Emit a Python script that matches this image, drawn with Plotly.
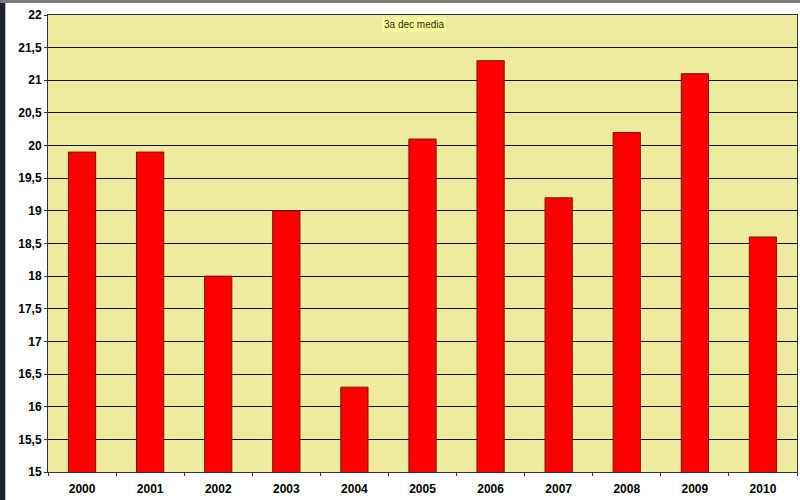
import plotly.graph_objects as go

years = ["2000", "2001", "2002", "2003", "2004", "2005", "2006", "2007", "2008", "2009", "2010"]
values = [19.9, 19.9, 18.0, 19.0, 16.3, 20.1, 21.3, 19.2, 20.2, 21.1, 18.6]
y_ticks = [15, 15.5, 16, 16.5, 17, 17.5, 18, 18.5, 19, 19.5, 20, 20.5, 21, 21.5, 22]
title_text = "3a dec media"

fig = go.Figure()
fig.add_trace(go.Bar(
    x=years, y=values,
    marker=dict(color="#ff0000", line=dict(color="#7a1010", width=1)),
    width=0.4,
))

fig.update_layout(
    width=800, height=500,
    margin=dict(l=48, r=3, t=15, b=28, autoexpand=False),
    paper_bgcolor="white",
    plot_bgcolor="#efeb9e",
    separators=",.",
    showlegend=False,
    bargap=0.6,
    font=dict(family="Liberation Sans, Arial, sans-serif", color="black"),
    annotations=[dict(
        text=title_text, x=0.489, y=0.995, xref="paper", yref="paper",
        xanchor="center", yanchor="top", showarrow=False,
        font=dict(size=10, color="#222"), bgcolor="#ffff99",
    )],
    shapes=[
        dict(type="rect", xref="paper", yref="paper", x0=-0.08, x1=-0.057, y0=-0.1, y1=1.1,
             fillcolor="#1a2030", line_width=0, layer="above"),
        dict(type="rect", xref="paper", yref="paper", x0=-0.08, x1=1.02, y0=1.026, y1=1.1,
             fillcolor="#7a7a7a", line_width=0, layer="above"),
    ],
)
fig.update_xaxes(
    type="category",
    automargin=False,
    showgrid=False,
    showline=True, linecolor="#333", linewidth=1,
    ticks="outside", tickson="boundaries", ticklen=3, tickcolor="#333",
    ticklabelstandoff=6,
    tickfont=dict(size=12, family="Liberation Sans, Arial", color="black", weight="bold"),
    mirror=True,
)
fig.update_yaxes(
    range=[15, 22],
    automargin=False,
    tickvals=y_ticks,
    showgrid=True, gridcolor="#111", gridwidth=1,
    showline=True, linecolor="#333", linewidth=1, mirror=True,
    ticks="outside", ticklen=3, tickcolor="#333",
    tickfont=dict(size=12, family="Liberation Sans, Arial", color="black", weight="bold"),
    zeroline=False,
)

fig.write_html("out.html", config={"displayModeBar": False},
               post_script="document.body.style.margin='0';")
